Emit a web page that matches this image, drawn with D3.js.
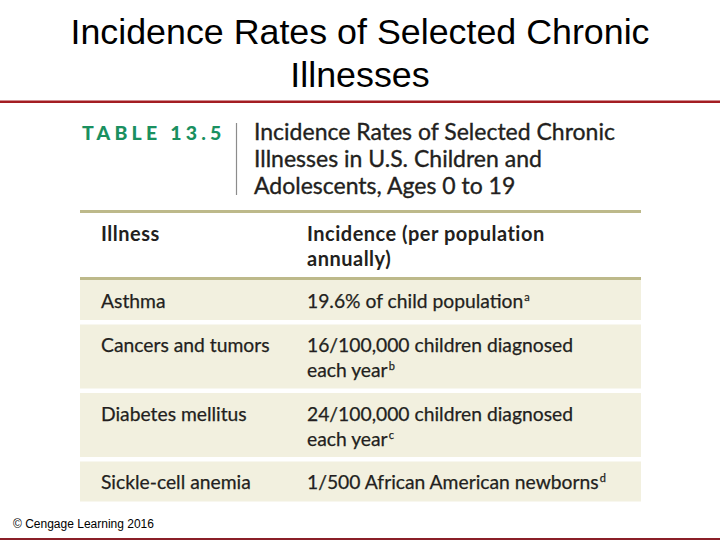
<!DOCTYPE html>
<html>
<head>
<meta charset="utf-8">
<script src="https://cdn.jsdelivr.net/npm/d3@7"></script>
<style>
  html, body { margin: 0; padding: 0; background: #fff; }
  svg { display: block; }
</style>
</head>
<body>
<svg id="chart" width="720" height="540"></svg>
<script>
// ---- data ----
const slideTitle = ["Incidence Rates of Selected Chronic", "Illnesses"];
const tableLabel = "TABLE 13.5";
const tableTitle = ["Incidence Rates of Selected Chronic", "Illnesses in U.S. Children and", "Adolescents, Ages 0 to 19"];
const columnHeaders = [["Illness"], ["Incidence (per population", "annually)"]];
const illnesses = ["Asthma", "Cancers and tumors", "Diabetes mellitus", "Sickle-cell anemia"];
const incidenceLines = [
  ["19.6% of child population"],
  ["16/100,000 children diagnosed", "each year"],
  ["24/100,000 children diagnosed", "each year"],
  ["1/500 African American newborns"]
];
const footnoteMarks = ["a", "b", "c", "d"];
const credit = "© Cengage Learning 2016";

// ---- layout ----
const svg = d3.select("#chart");
const W = 720, H = 540;
const textColor = "#231f20";
const ruleColor = "#bdb98a";
const fillColor = "#f2f0df";
const tableFont = "Lato, 'Noto Sans', sans-serif";

// slide title
svg.append("g").selectAll("text").data(slideTitle).join("text")
  .attr("x", W / 2)
  .attr("y", (d, i) => 44 + i * 43)
  .attr("text-anchor", "middle")
  .attr("font-family", "'Liberation Sans', Arial, sans-serif")
  .attr("font-size", 35.8)
  .attr("fill", "#000")
  .text(d => d);

// red rules
svg.append("rect").attr("x", 0).attr("y", 100.5).attr("width", W).attr("height", 2.5).attr("fill", "#a31d22");
svg.append("rect").attr("x", 0).attr("y", 538).attr("width", W).attr("height", 2).attr("fill", "#8a1f28");

// table label
svg.append("text")
  .attr("x", 82).attr("y", 140)
  .attr("font-family", tableFont)
  .attr("font-weight", 900)
  .attr("font-size", 19.5)
  .attr("letter-spacing", 4.2)
  .attr("fill", "#1a9060")
  .text(tableLabel);

// divider
svg.append("line").attr("x1", 236.5).attr("x2", 236.5).attr("y1", 123).attr("y2", 195)
  .attr("stroke", "#8c8c8c").attr("stroke-width", 1.2);

// table title
svg.append("g").selectAll("text").data(tableTitle).join("text")
  .attr("x", 254)
  .attr("y", (d, i) => 140 + i * 27)
  .attr("font-family", tableFont)
  .attr("font-size", 23)
  .attr("fill", textColor)
  .attr("stroke", textColor)
  .attr("stroke-width", 0.35)
  .text(d => d);

const x = d3.scaleOrdinal().domain(["illness", "incidence"]).range([101, 307]);
const tableLeft = 80, tableRight = 641;
const rowSpans = incidenceLines.map(l => l.length);

// header rules
svg.append("rect").attr("x", tableLeft).attr("y", 210).attr("width", tableRight - tableLeft).attr("height", 3).attr("fill", ruleColor);
svg.append("rect").attr("x", tableLeft).attr("y", 277).attr("width", tableRight - tableLeft).attr("height", 3).attr("fill", ruleColor);

// header text
const lineH = 25;
const header = svg.append("g")
  .attr("font-family", tableFont)
  .attr("font-weight", 700)
  .attr("font-size", 20)
  .attr("fill", textColor);
columnHeaders.forEach((lines, ci) => {
  header.append("g").selectAll("text").data(lines).join("text")
    .attr("x", ci === 0 ? x("illness") : x("incidence"))
    .attr("y", (d, i) => 241 + i * lineH)
    .attr("letter-spacing", 0.5)
    .text(d => d);
});

// row geometry
const rowTop = [];
const rowH = [];
let yCur = 280;
const gap = 4.5;
rowSpans.forEach((n) => {
  const h = n === 1 ? 40 : 64;
  rowTop.push(yCur);
  rowH.push(h);
  yCur += h + gap;
});

const rows = svg.append("g").selectAll("g").data(illnesses).join("g");
rows.append("rect")
  .attr("x", tableLeft)
  .attr("y", (d, i) => rowTop[i])
  .attr("width", tableRight - tableLeft)
  .attr("height", (d, i) => rowH[i])
  .attr("fill", fillColor);

const bodyStyle = sel => sel
  .attr("font-family", tableFont)
  .attr("font-size", 19.3)
  .attr("fill", textColor)
  .attr("stroke", textColor)
  .attr("stroke-width", 0.25);

rows.append("text")
  .attr("x", x("illness"))
  .attr("y", (d, i) => rowTop[i] + 27.5)
  .call(bodyStyle)
  .text(d => d);

rows.each(function(d, i) {
  const g = d3.select(this);
  const lines = incidenceLines[i];
  lines.forEach((line, li) => {
    const t = g.append("text")
      .attr("x", x("incidence"))
      .attr("y", rowTop[i] + 27.5 + li * lineH)
      .call(bodyStyle);
    t.append("tspan").text(line);
    if (li === lines.length - 1) {
      t.append("tspan").attr("dx", 1).attr("dy", -7).attr("font-size", 11).text(footnoteMarks[i]);
    }
  });
});

// credit
svg.append("text")
  .attr("x", 13).attr("y", 528)
  .attr("font-family", "'Liberation Sans', Arial, sans-serif")
  .attr("font-size", 12)
  .attr("fill", "#000")
  .text(credit);
</script>
</body>
</html>
